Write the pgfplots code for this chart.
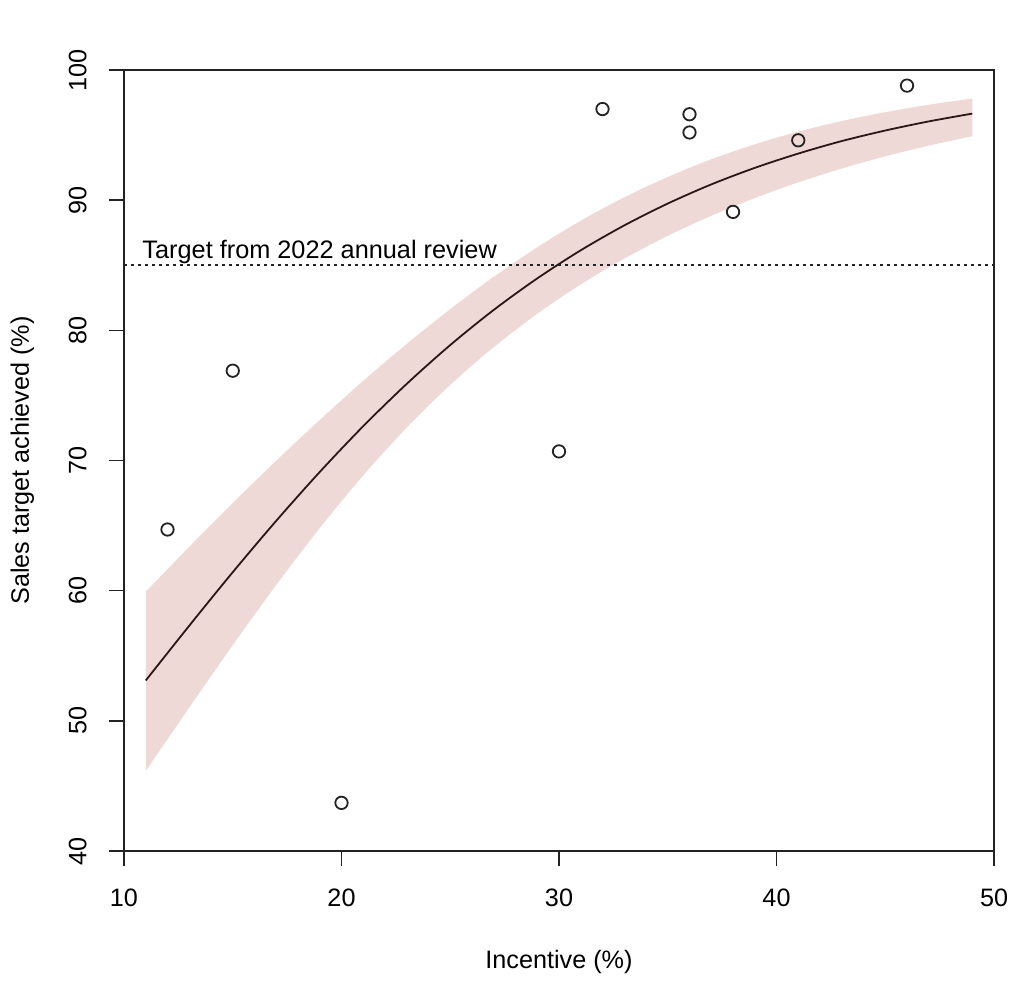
\documentclass[border=0pt]{standalone}
\usepackage{fontspec}
\setmainfont{Liberation Sans}
\usepackage{pgfplots}
\usepackage{pgfplotstable}
\pgfplotsset{compat=1.18}
\usepgfplotslibrary{fillbetween}
\definecolor{band}{RGB}{239,217,215}
\definecolor{fitline}{RGB}{45,22,22}
\definecolor{ink}{RGB}{35,35,35}

\pgfplotstableread{
x fit lo hi
11 53.10 46.16 59.92
13 57.31 51.02 63.37
15 61.42 55.82 66.73
17 65.37 60.44 69.99
19 69.12 64.81 73.11
21 72.64 68.86 76.12
23 75.89 72.53 78.96
25 78.87 75.81 81.63
27 81.57 78.71 84.11
29 83.99 81.27 86.38
31 86.15 83.53 88.42
33 88.06 85.51 90.22
35 89.74 87.26 91.78
37 91.21 88.80 93.14
39 92.48 90.16 94.29
41 93.58 91.37 95.27
43 94.54 92.43 96.08
45 95.35 93.37 96.76
47 96.05 94.19 97.33
49 96.65 94.91 97.81
}\fitdata

\pgfplotstableread{
x y
12 64.7
15 76.9
20 43.7
30 70.7
32 97.0
36 96.6
36 95.2
38 89.1
41 94.6
46 98.8
}\pts

\begin{document}
\begin{tikzpicture}
\begin{axis}[
  width=435pt, height=390.5pt, scale only axis,
  xmin=10, xmax=50, ymin=40, ymax=100,
  xtick={10,20,30,40,50}, ytick={40,50,60,70,80,90,100},
  tick align=outside, xtick pos=left, ytick pos=left,
  major tick length=7.5pt,
  tick style={ink, line width=0.8pt},
  axis line style={ink, line width=0.85pt},
  /pgf/number format/assume math mode=true,
  ticklabel style={font=\fontsize{12.6}{15}\selectfont, text=black},
  xticklabel style={anchor=north, inner sep=0pt},
  yticklabel style={rotate=90, anchor=south, inner sep=0pt},
  xticklabel shift=11pt, yticklabel shift=11pt,
  xlabel={Incentive (\%)}, ylabel={Sales target achieved (\%)},
  label style={font=\fontsize{12.6}{15}\selectfont},
  xlabel style={at={(axis description cs:0.5,-0.1498)}, anchor=base, inner sep=0pt},
  ylabel style={at={(axis description cs:-0.1092,0.5)}, anchor=base, inner sep=0pt, rotate=0},
  clip=false,
]
\addplot[draw=none, smooth, name path=hi] table[x=x, y=hi] {\fitdata};
\addplot[draw=none, smooth, name path=lo] table[x=x, y=lo] {\fitdata};
\addplot[fill=band, draw=none] fill between[of=hi and lo];
\addplot[fitline, line width=0.9pt, smooth] table[x=x, y=fit] {\fitdata};
\addplot[ink, line width=0.85pt, dash pattern=on 1.4pt off 2.1pt] coordinates {(10,85) (50,85)};
\addplot[only marks, mark=o, mark size=3.1pt, mark options={ink, line width=0.9pt}] table[x=x, y=y] {\pts};
\node[anchor=base west, inner sep=0pt, font=\fontsize{12.65}{15}\selectfont] at (axis cs:10.83,85.52) {Target from 2022 annual review};
\end{axis}
\path (current axis.south west) +(-62pt,-65.5pt) (current axis.north east) +(15pt,35pt);
\end{tikzpicture}
\end{document}
